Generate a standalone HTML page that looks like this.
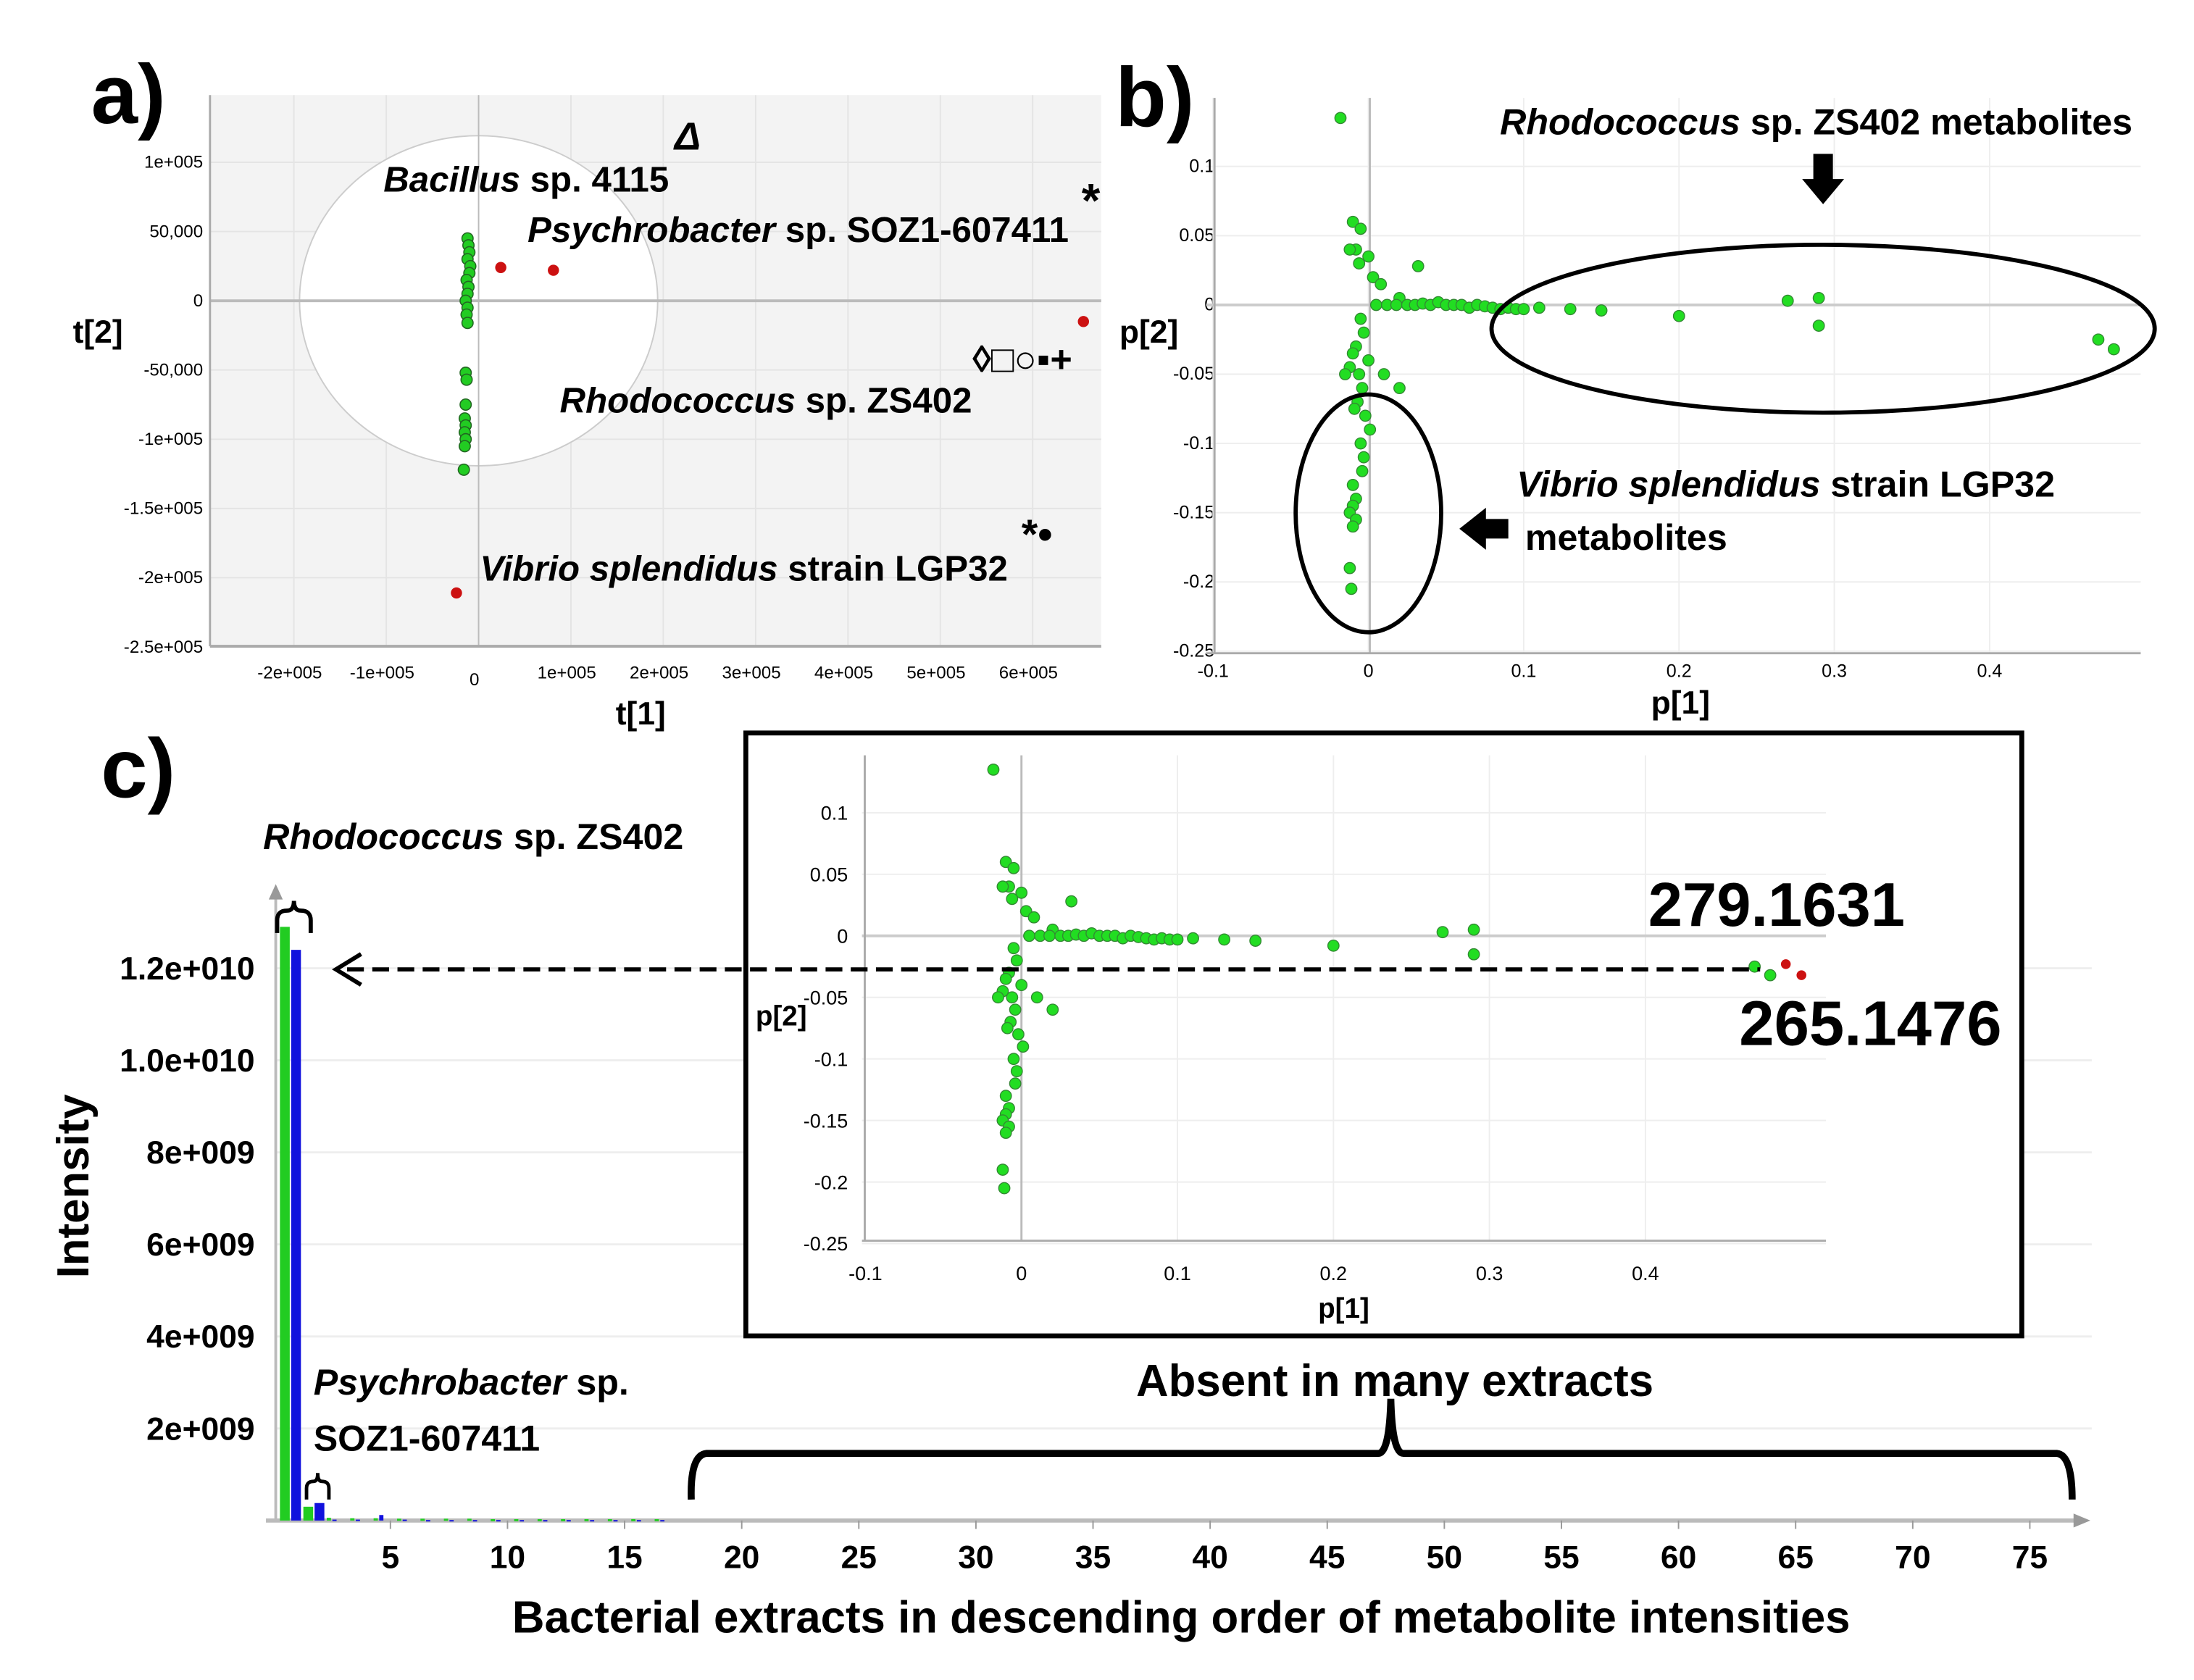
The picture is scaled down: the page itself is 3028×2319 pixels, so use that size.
<!DOCTYPE html>
<html><head><meta charset="utf-8"><style>
html,body{margin:0;padding:0;background:#fff}
svg{display:block}
text{font-family:"Liberation Sans Narrow","Liberation Sans",sans-serif}
</style></head><body>
<svg id="fig" width="3028" height="2319" viewBox="0 0 1568 1201" xmlns="http://www.w3.org/2000/svg">
<g id="pa"></g>
<g id="pb"></g>
<g id="pc"></g>
</svg>
<script>
// Panel a scores (t1, t2 in units of 1e5)
const aGreenT1=[-0.12,-0.11,-0.1,-0.12,-0.09,-0.1,-0.13,-0.11,-0.12,-0.14,-0.12,-0.13,-0.12,-0.14,-0.13,-0.14,-0.15,-0.14,-0.15,-0.14,-0.15,-0.16];
const aGreenT2=[0.45,0.40,0.35,0.30,0.25,0.20,0.15,0.10,0.05,0.0,-0.05,-0.10,-0.16,-0.52,-0.57,-0.75,-0.85,-0.90,-0.95,-1.0,-1.05,-1.22];
const aRedT1=[0.24,0.81,6.55,-0.24];
const aRedT2=[0.24,0.22,-0.15,-2.11];
const aXTicks=[-2,-1,0,1,2,3,4,5,6];
const aXLabels=["-2e+005","-1e+005","0","1e+005","2e+005","3e+005","4e+005","5e+005","6e+005"];
const aYTicks=[1,0.5,0,-0.5,-1,-1.5,-2,-2.5];
const aYLabels=["1e+005","50,000","0","-50,000","-1e+005","-1.5e+005","-2e+005","-2.5e+005"];
// Panel b loadings
const bP1=[-0.018,-0.01,-0.005,-0.008,0.0,-0.006,-0.012,0.003,0.008,0.032,0.02,0.005,0.012,0.018,0.025,0.03,0.035,0.04,0.045,0.05,0.055,0.06,0.065,0.07,0.075,0.08,0.085,0.09,0.095,0.1,0.11,0.13,0.15,0.2,0.27,0.29,0.29,0.47,0.48,
 -0.005,-0.003,-0.008,0.0,-0.006,-0.004,-0.007,-0.002,0.001,-0.009,-0.005,-0.003,0.02,0.01,-0.004,-0.01,-0.008,-0.01,-0.012,-0.008,-0.01,-0.012,-0.011,-0.01,-0.012,-0.015];
const bP2=[0.135,0.06,0.055,0.04,0.035,0.03,0.04,0.02,0.015,0.028,0.005,0.0,0.0,0.0,0.0,0.0,0.001,0.0,0.002,0.0,0.0,0.0,-0.002,0.0,-0.001,-0.002,-0.003,-0.002,-0.003,-0.003,-0.002,-0.003,-0.004,-0.008,0.003,0.005,-0.015,-0.025,-0.032,
 -0.01,-0.02,-0.03,-0.04,-0.05,-0.06,-0.07,-0.08,-0.09,-0.075,-0.1,-0.11,-0.06,-0.05,-0.12,-0.13,-0.14,-0.145,-0.15,-0.155,-0.16,-0.19,-0.205,-0.035,-0.045,-0.05];
const bXTicks=[-0.1,0,0.1,0.2,0.3,0.4];
const bXLabels=["-0.1","0","0.1","0.2","0.3","0.4"];
const bYTicks=[0.1,0.05,0,-0.05,-0.1,-0.15,-0.2,-0.25];
const bYLabels=["0.1","0.05","0","-0.05","-0.1","-0.15","-0.2","-0.25"];
const insetRedP1=[0.49,0.5];
const insetRedP2=[-0.023,-0.032];
// Panel c intensities (units of 1e9)
const cIdx=[1,2,3,4,5,6,7,8,9,10,11,12,13,14,15,16,17];
const cGreen=[12.9,0.3,0.06,0.05,0.05,0.04,0.04,0.04,0.04,0.03,0.03,0.03,0.03,0.03,0.03,0.03,0.03];
const cBlue=[12.4,0.38,0.02,0.02,0.12,0.02,0.01,0.01,0.01,0.01,0.01,0.01,0.01,0.01,0.01,0.01,0.01];
const cXTicks=[5,10,15,20,25,30,35,40,45,50,55,60,65,70,75];
const cYTicks=[12,10,8,6,4,2];
const cYLabels=["1.2e+010","1.0e+010","8e+009","6e+009","4e+009","2e+009"];

const NS="http://www.w3.org/2000/svg";
function mk(parent,tag,attrs,txt){const e=document.createElementNS(NS,tag);for(const k in attrs)e.setAttribute(k,attrs[k]);if(txt!==undefined)e.textContent=txt;parent.appendChild(e);return e;}

// ---------- Panel a ----------
const pa=document.getElementById('pa');
const ax=v=>342+v*66, ay=v=>215-v*99;
let r=mk(pa,'rect',{x:150,y:68,width:637,height:394,fill:'#f3f3f3'});


aYTicks.forEach((t,i)=>{
  let g=mk(pa,'line',{x1:150,x2:787,y1:ay(t),y2:ay(t),stroke:'#e4e4e4','stroke-width':1});
  
  
  let l=mk(pa,'text',{x:145,y:ay(t)+4,'text-anchor':'end','font-size':12.5},aYLabels[i]);
  
  
});
aXTicks.forEach((t,i)=>{
  let g=mk(pa,'line',{x1:ax(t),x2:ax(t),y1:68,y2:462,stroke:'#e4e4e4','stroke-width':1});
  
  
  let l=mk(pa,'text',{x:ax(t)-3,y:t===0?490:485,'text-anchor':'middle','font-size':12.5},aXLabels[i]);
  
  
});
let el=mk(pa,'ellipse',{cx:342,cy:215,rx:128,ry:118,fill:'#fff',stroke:'#ccc','stroke-width':1});


mk(pa,'line',{x1:150,x2:787,y1:215,y2:215,stroke:'#bbb','stroke-width':2});
mk(pa,'line',{x1:342,x2:342,y1:68,y2:462,stroke:'#bbb','stroke-width':1});
mk(pa,'line',{x1:150,x2:787,y1:462,y2:462,stroke:'#aaa','stroke-width':2});
mk(pa,'line',{x1:150,x2:150,y1:68,y2:462,stroke:'#aaa','stroke-width':1.5});
aGreenT1.forEach((v,i)=>{
  let c=mk(pa,'circle',{cx:ax(v),cy:ay(aGreenT2[i]),r:4,fill:'#22cc22',stroke:'#226622','stroke-width':0.8});
  
  
});
aRedT1.forEach((v,i)=>{
  let c=mk(pa,'circle',{cx:ax(v),cy:ay(aRedT2[i]),r:4,fill:'#cc1111'});
  
  
});
const aTexts=[
 [65,88,'a)',60,'normal','panel-label-a'],
 [52,245,'t[2]',23,'normal','y-axis-title-a'],
 [440,518,'t[1]',23,'normal','x-axis-title-a'],
 [482,107,'Δ',28,'italic','symbol-delta'],
 [773,155,'*',34,'normal','symbol-star-1'],
 [695,266,'◊□○▪+',27,'normal','symbol-row'],
 [730,392,'*•',30,'normal','symbol-star-dot']];
aTexts.forEach(t=>{let e=mk(pa,'text',{x:t[0],y:t[1],'font-size':t[3],'font-weight':'bold','font-style':t[4]},t[2]);
 
 });
function rich(parent,x,y,size,parts,name){
  const e=mk(parent,'text',{x:x,y:y,'font-size':size,'font-weight':'bold'});
  
  
  parts.forEach(p=>{mk(e,'tspan',{'font-style':p[1]?'italic':'normal'},p[0]);});
  return e;}
rich(pa,274,137,25.5,[['Bacillus',1],[' sp. 4115',0]],'label-bacillus');
rich(pa,377,173,25.5,[['Psychrobacter',1],[' sp. SOZ1-607411',0]],'label-psychrobacter');
rich(pa,400,295,25.5,[['Rhodococcus',1],[' sp. ZS402',0]],'label-rhodococcus-a');
rich(pa,343,415,25.5,[['Vibrio splendidus',1],[' strain LGP32',0]],'label-vibrio-a');

// ---------- Panel b ----------
const pb=document.getElementById('pb');
const bx=v=>978+v*1110, by=v=>218-v*990;
bYTicks.forEach((t,i)=>{
  let g=mk(pb,'line',{x1:862,x2:1530,y1:by(t),y2:by(t),stroke:'#eee','stroke-width':1});
  
  
  let l=mk(pb,'text',{x:868,y:by(t)+4,'text-anchor':'end','font-size':13},bYLabels[i]);
  
  
});
bXTicks.forEach((t,i)=>{
  let g=mk(pb,'line',{x1:bx(t),x2:bx(t),y1:70,y2:467,stroke:'#eee','stroke-width':1});
  
  
  let l=mk(pb,'text',{x:bx(t),y:484,'text-anchor':'middle','font-size':13},bXLabels[i]);
  
  
});
mk(pb,'line',{x1:862,x2:1530,y1:218,y2:218,stroke:'#ccc','stroke-width':2});
mk(pb,'line',{x1:979,x2:979,y1:70,y2:467,stroke:'#bbb','stroke-width':1.5});
mk(pb,'line',{x1:862,x2:1530,y1:467,y2:467,stroke:'#aaa','stroke-width':1.5});
mk(pb,'line',{x1:868,x2:868,y1:70,y2:467,stroke:'#aaa','stroke-width':1.5});
bP1.forEach((v,i)=>{
  let c=mk(pb,'circle',{cx:bx(v),cy:by(bP2[i]),r:4,fill:'#22dd22',stroke:'#338833','stroke-width':0.7});
  
  
});
let e1=mk(pb,'ellipse',{cx:1303,cy:235,rx:237,ry:60,fill:'none',stroke:'#000','stroke-width':3});


let e2=mk(pb,'ellipse',{cx:978,cy:367,rx:52,ry:85,fill:'none',stroke:'#000','stroke-width':3});


let a1=mk(pb,'path',{d:'M1296 110 H1310 V128 H1318 L1303 146 L1288 128 H1296 Z',fill:'#000'});


let a2=mk(pb,'path',{d:'M1078 371 V385 H1062 V393 L1043 378 L1062 363 V371 Z',fill:'#000'});


[[797,90,'b)',60,'panel-label-b'],[800,245,'p[2]',23,'y-axis-title-b'],[1180,510,'p[1]',23,'x-axis-title-b'],[1090,393,'metabolites',26,'label-vibrio-metabolites-2']].forEach(t=>{
 let e=mk(pb,'text',{x:t[0],y:t[1],'font-size':t[3],'font-weight':'bold'},t[2]);
 
 });
rich(pb,1072,96,26,[['Rhodococcus',1],[' sp. ZS402 metabolites',0]],'label-rhodococcus-metabolites');
rich(pb,1084,355,26,[['Vibrio splendidus',1],[' strain LGP32',0]],'label-vibrio-metabolites');

// ---------- Panel c ----------
const pc=document.getElementById('pc');
const cx=i=>212+(i-1)*16.74, cy=v=>1087-v*32.9;
cYTicks.forEach((t,i)=>{
  let g=mk(pc,'line',{x1:197,x2:1495,y1:cy(t),y2:cy(t),stroke:'#eee','stroke-width':1.5});
  
  
  let l=mk(pc,'text',{x:182,y:cy(t)+8,'text-anchor':'end','font-size':23,'font-weight':'bold'},cYLabels[i]);
  
  
});
mk(pc,'line',{x1:190,x2:1485,y1:1087,y2:1087,stroke:'#bbb','stroke-width':3});
mk(pc,'path',{d:'M1482 1082 L1494 1087 L1482 1092 Z',fill:'#999'});
mk(pc,'line',{x1:197,x2:197,y1:640,y2:1087,stroke:'#bbb','stroke-width':2});
mk(pc,'path',{d:'M192 643 L197 632 L202 643 Z',fill:'#999'});
cXTicks.forEach(t=>{
  mk(pc,'line',{x1:cx(t),x2:cx(t),y1:1087,y2:1093,stroke:'#999','stroke-width':1});
  let l=mk(pc,'text',{x:cx(t),y:1121,'text-anchor':'middle','font-size':23,'font-weight':'bold'},String(t));
  
  
});
cIdx.forEach((k,i)=>{
  const w=k<=2?7:3;
  let g=mk(pc,'rect',{x:cx(k)-12,y:cy(cGreen[i]),width:w,height:Math.max(1.5,1087-cy(cGreen[i])),fill:'#22cc22'});
  
  
  let b=mk(pc,'rect',{x:cx(k)-12+w+1,y:cy(cBlue[i]),width:w,height:Math.max(1,1087-cy(cBlue[i])),fill:'#1111dd'});
  
  
});
// braces
mk(pc,'path',{d:'M198 667 V658 Q198 651 205 651 Q210 651 210 644 Q210 651 215 651 Q222 651 222 658 V667',fill:'none',stroke:'#000','stroke-width':3});
mk(pc,'path',{d:'M219 1072 V1064 Q219 1059 224 1059 Q227 1059 227 1053 Q227 1059 230 1059 Q235 1059 235 1064 V1072',fill:'none',stroke:'#000','stroke-width':2.5});
let br=mk(pc,'path',{d:'M494 1072 Q493 1040 505 1039 H985 Q993 1039 994 1000 Q995 1039 1003 1039 H1470 Q1481 1040 1481 1072',fill:'none',stroke:'#000','stroke-width':5});


// inset
let box=mk(pc,'rect',{x:533,y:524,width:912,height:431,fill:'#fff',stroke:'#000','stroke-width':3.5});


const ix=v=>730+v*1115, iy=v=>669-v*880;
bYTicks.forEach((t,i)=>{
  mk(pc,'line',{x1:616,x2:1305,y1:iy(t),y2:iy(t),stroke:'#eee','stroke-width':1});
  let l=mk(pc,'text',{x:606,y:iy(t)+5,'text-anchor':'end','font-size':14},bYLabels[i]);
  
  
});
bXTicks.forEach((t,i)=>{
  mk(pc,'line',{x1:ix(t),x2:ix(t),y1:540,y2:887,stroke:'#eee','stroke-width':1});
  let l=mk(pc,'text',{x:ix(t),y:915,'text-anchor':'middle','font-size':14},bXLabels[i]);
  
  
});
mk(pc,'line',{x1:616,x2:1305,y1:669,y2:669,stroke:'#ccc','stroke-width':2});
mk(pc,'line',{x1:730,x2:730,y1:540,y2:887,stroke:'#bbb','stroke-width':1.5});
mk(pc,'line',{x1:616,x2:1305,y1:887,y2:887,stroke:'#aaa','stroke-width':1.5});
mk(pc,'line',{x1:618,x2:618,y1:540,y2:887,stroke:'#aaa','stroke-width':1.5});
bP1.forEach((v,i)=>{
  let c=mk(pc,'circle',{cx:ix(v),cy:iy(bP2[i]),r:4,fill:'#22dd22',stroke:'#338833','stroke-width':0.7});
  
  
});
insetRedP1.forEach((v,i)=>{
  let c=mk(pc,'circle',{cx:ix(v),cy:iy(insetRedP2[i]),r:3.5,fill:'#cc1111'});
  
  
});
let dl=mk(pc,'line',{x1:248,x2:1258,y1:693,y2:693,stroke:'#000','stroke-width':3,'stroke-dasharray':'12 6'});


mk(pc,'path',{d:'M258 682 L240 693 L258 704',fill:'none',stroke:'#000','stroke-width':3});
const cTexts=[[72,570,'c)',60,'panel-label-c'],[540,733,'p[2]',20,'inset-y-title'],[942,942,'p[1]',20,'inset-x-title'],
 [1178,662,'279.1631',44,'label-mz-279'],[1243,747,'265.1476',45,'label-mz-265'],
 [812,998,'Absent in many extracts',32,'label-absent'],
 [366,1167,'Bacterial extracts in descending order of metabolite intensities',32,'x-axis-title-c'],
 [224,1037,'SOZ1-607411',26,'label-psychrobacter-c-2']];
cTexts.forEach(t=>{let e=mk(pc,'text',{x:t[0],y:t[1],'font-size':t[3],'font-weight':'bold'},t[2]);
 
 });
let yt=mk(pc,'text',{x:0,y:0,'font-size':32,'font-weight':'bold','text-anchor':'middle',transform:'translate(63 848) rotate(-90)'},'Intensity');


rich(pc,188,607,26,[['Rhodococcus',1],[' sp. ZS402',0]],'label-rhodococcus-c');
rich(pc,224,997,26,[['Psychrobacter',1],[' sp.',0]],'label-psychrobacter-c');
</script>
</body></html>
